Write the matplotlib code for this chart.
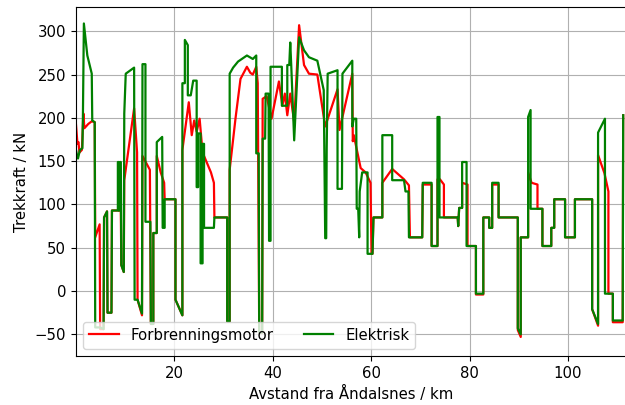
import matplotlib
matplotlib.use('Agg')
import matplotlib.pyplot as plt

plt.rcParams['font.size'] = 10.7

# Forbrenningsmotor (red) - avstand / km, trekkraft / kN
km_forbr = [0.1, 0.4, 0.6, 0.8, 1.3, 1.6, 1.8, 2.6, 3.3, 3.9, 4.0, 4.9, 5.0, 5.7, 5.8, 6.4, 6.5, 7.3, 7.4, 9.2,
            9.3, 9.8, 9.9, 11.9, 12.5, 12.6, 13.5, 13.6, 15.1, 15.3, 15.8, 15.8, 16.5, 16.5, 17.3, 18.0, 18.1, 20.3,
            20.3, 21.7, 21.7, 23.0, 23.6, 24.1, 24.6, 25.2, 25.8, 27.5, 28.1, 28.2, 30.8, 30.8, 31.3, 31.3, 32.5,
            33.5, 34.8, 35.5, 36.0, 36.7, 37.0, 37.3, 37.9, 38.0, 38.8, 39.8, 41.3, 42.0, 42.5, 43.0, 43.6, 44.4,
            45.4, 46.4, 47.4, 49.1, 50.7, 53.2, 53.6, 56.2, 56.3, 56.5, 57.9, 58.9, 59.9, 60.1, 60.3, 60.5, 62.3,
            62.3, 64.3, 66.7, 67.7, 67.9, 70.4, 70.5, 72.3, 72.3, 73.5, 73.5, 74.0, 74.8, 74.8, 77.6, 77.7, 77.9,
            78.5, 78.5, 79.6, 79.6, 81.3, 81.3, 82.8, 82.8, 84.0, 84.0, 84.6, 84.6, 85.9, 85.9, 89.8, 89.8, 90.4,
            90.4, 91.9, 91.9, 92.6, 93.8, 93.8, 94.8, 94.8, 96.6, 96.6, 97.2, 97.2, 99.4, 99.4, 101.4, 101.4, 104.9,
            104.9, 106.1, 106.1, 107.4, 108.2, 108.2, 109.1, 109.1, 111.1, 111.2]
kn_forbr = [192, 170, 172, 160, 163, 205, 188, 193, 196, 195, 62, 77, -44, -44, 85, 92, -25, -25, 93, 93,
            30, 22, 128, 211, 160, -10, -28, 156, 140, -38, -38, 67, 67, 156, 137, 125, 106, 106,
            -10, -28, 163, 218, 180, 197, 184, 199, 160, 137, 125, 85, 85, -35, -35, 140, 200,
            245, 259, 252, 250, 259, 240, -48, -48, 222, 225, 199, 242, 214, 228, 203, 228, 195,
            307, 261, 251, 250, 190, 233, 186, 251, 173, 180, 142, 137, 125, 43, 43, 85, 85,
            125, 141, 129, 122, 62, 62, 123, 123, 52, 52, 129, 129, 123, 85, 85, 75, 96,
            96, 125, 123, 52, 52, -4, -4, 85, 85, 73, 73, 123, 123, 85, 85, -45, -53,
            62, 62, 137, 125, 123, 95, 95, 52, 52, 73, 73, 106, 106, 62, 62, 106, 106,
            -21, -40, 157, 136, 115, -3, -3, -36, -36, 203]

# Elektrisk (green)
km_elektr = [0.1, 0.3, 0.5, 0.9, 1.4, 1.5, 1.7, 2.4, 3.3, 3.4, 3.9, 4.0, 5.0, 5.7, 5.8, 6.4, 6.5, 7.3, 7.4, 8.6,
             8.6, 8.8, 8.8, 9.0, 9.0, 9.2, 9.3, 9.8, 9.9, 10.2, 11.9, 12.0, 12.6, 13.5, 13.6, 14.2, 14.2, 15.2,
             15.3, 15.8, 15.8, 16.5, 16.5, 17.6, 17.7, 18.1, 18.1, 20.3, 20.3, 21.7, 21.7, 22.2, 22.2, 22.8, 22.8,
             23.4, 23.9, 24.6, 24.6, 24.9, 24.9, 25.4, 25.4, 25.8, 25.8, 26.1, 26.1, 28.1, 28.2, 30.8, 30.8, 31.3,
             31.3, 32.0, 33.0, 34.8, 36.0, 36.7, 36.7, 37.2, 37.3, 37.9, 38.0, 38.5, 38.6, 39.2, 39.3, 39.6, 39.6,
             41.9, 41.9, 43.0, 43.0, 43.4, 43.6, 43.8, 44.4, 45.4, 46.4, 47.4, 49.1, 50.4, 50.7, 50.9, 51.0, 51.2,
             53.2, 53.2, 54.1, 54.2, 56.2, 56.2, 56.5, 57.0, 57.1, 57.4, 57.6, 57.7, 58.2, 59.3, 59.3, 60.3, 60.5,
             62.3, 62.3, 64.3, 64.3, 66.7, 67.0, 67.6, 67.7, 70.4, 70.5, 72.3, 72.3, 73.5, 73.5, 73.9, 73.9, 77.6,
             77.7, 77.9, 78.5, 78.5, 79.4, 79.4, 81.3, 81.3, 82.8, 82.8, 84.0, 84.0, 84.6, 84.6, 85.9, 85.9, 89.8,
             89.8, 90.4, 90.4, 91.9, 91.9, 92.4, 92.4, 94.8, 94.8, 96.6, 96.6, 97.2, 97.2, 99.4, 99.4, 101.4, 101.4,
             104.9, 104.9, 106.1, 106.1, 107.5, 107.5, 109.1, 109.1, 111.1, 111.2]
kn_elektr = [163, 157, 153, 163, 165, 200, 309, 272, 251, 197, 195, -42, -42, -44, 85, 92, -25, -25, 93, 93,
             149, 149, 93, 93, 149, 149, 30, 22, 205, 251, 258, -10, -10, -26, 262, 262, 80, 80,
             -38, -38, 67, 67, 172, 178, 73, 73, 106, 106, -10, -28, 240, 240, 290, 284, 226,
             226, 243, 243, 120, 120, 182, 182, 32, 32, 170, 170, 73, 73, 85, 85, -35, -35,
             251, 258, 265, 272, 268, 272, 159, 159, -48, -48, 176, 176, 228, 228, 58, 58, 259,
             259, 214, 214, 261, 261, 287, 261, 174, 293, 278, 270, 266, 232, 61, 61, 164, 251,
             255, 118, 118, 251, 266, 190, 199, 199, 95, 95, 62, 115, 137, 137, 43, 43, 85,
             85, 180, 180, 128, 128, 115, 115, 62, 62, 125, 125, 52, 52, 201, 201, 85, 85,
             75, 96, 96, 149, 149, 52, 52, -3, -3, 85, 85, 73, 73, 125, 125, 85, 85,
             -43, -50, 62, 62, 201, 209, 95, 95, 52, 52, 73, 73, 106, 106, 62, 62, 106,
             106, -21, -38, 183, 199, -3, -3, -34, -34, 203]

fig = plt.figure(figsize=(6.25, 4.05), dpi=100)
ax = fig.add_axes([0.1216, 0.121, 0.8818, 0.8617])

ax.plot(km_forbr, kn_forbr, color='red', lw=1.6, label='Forbrenningsmotor')
ax.plot(km_elektr, kn_elektr, color='green', lw=1.6, label='Elektrisk')

ax.set_xlim(0.1, 112)
ax.set_ylim(-75, 328)
ax.set_xlabel('Avstand fra Åndalsnes / km')
ax.set_ylabel('Trekkraft / kN')
ax.grid(True)
ax.legend(loc='lower left', ncol=2)

plt.savefig('out.png', dpi=100)
plt.close()
